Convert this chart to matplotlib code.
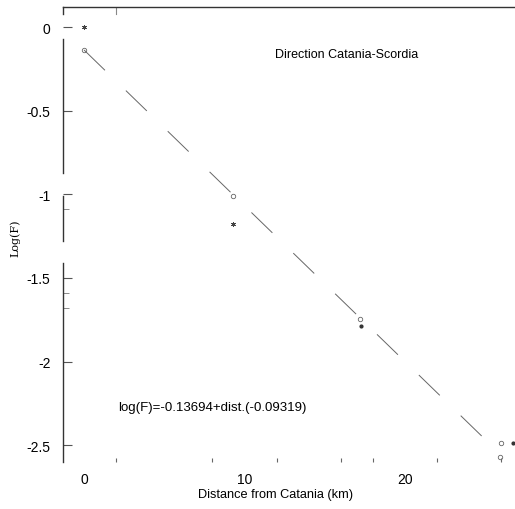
import matplotlib
matplotlib.use('Agg')
import matplotlib.pyplot as plt
import numpy as np

# fitted line log(F) = a + b * dist
intercept = -0.13694
slope = -0.09319
line_dist = [0.0, 25.9]

star_dist = [0.0, 9.3]
star_logf = [0.0, -1.18]
circle_dist = [0.0, 9.3, 17.2, 26.0, 25.9]
circle_logf = [-0.137, -1.01, -1.746, -2.49, -2.57]
dot_dist = [17.26, 26.7]
dot_logf = [-1.79, -2.49]

x_ticks = [2, 8, 12, 16, 18, 22, 26]
x_labels = [0, 10, 20]
y_labels = [0, -0.5, -1, -1.5, -2, -2.5]
y_minor = [-1.09, -1.59, -1.68]

plt.rcParams['font.family'] = ['Liberation Sans', 'DejaVu Sans']

fig = plt.figure(figsize=(5.15, 5.10), dpi=100)
ax = fig.add_axes([63 / 515, 1 - 463 / 510, 1 - 63 / 515, (463 - 8) / 510])
ax.set_xlim(-1.31, 26.85)
ax.set_ylim(-2.601, 0.12)

xs = np.array(line_dist)
ax.plot(xs, intercept + slope * xs, color='#666666', lw=0.7, dashes=(30, 30))

ax.plot(star_dist, star_logf, ls='none', marker=(6, 2, 0), ms=3.5, mew=0.6, color='#444444')
ax.plot(circle_dist, circle_logf, ls='none', marker='o', ms=3.2, mfc='none', mew=0.6, color='#666666')
ax.plot(dot_dist, dot_logf, ls='none', marker='o', ms=2.0, color='#333333')

# frame: no right/bottom spine, left spine is broken like in the scan
for s in ['right', 'bottom', 'left']:
    ax.spines[s].set_visible(False)
ax.spines['top'].set_linewidth(1.0)
ax.spines['top'].set_color('#333333')
left_pieces = [(0.12, 0.08), (-0.07, -0.87), (-1.01, -1.28), (-1.41, -2.601)]
for top, bot in left_pieces:
    ax.plot([0, 0], [bot, top], transform=ax.get_yaxis_transform(), color='#333333', lw=1.0, clip_on=False)

# single tick on the top edge
ax.plot([2, 2], [1.0, 0.985], transform=ax.get_xaxis_transform(), color='#888888', lw=0.8)

# bottom ticks (no labels on them) and labels at 0/10/20
ax.set_xticks(x_ticks)
ax.set_xticklabels([])
ax.tick_params(axis='x', direction='in', length=3, width=0.8, color='#666666')
for v in x_labels:
    ax.text(v, -0.038, str(v), transform=ax.get_xaxis_transform(), ha='center', va='center', fontsize=10)

ax.set_yticks(y_labels)
ax.set_yticklabels(['0', '-0.5', '-1', '-1.5', '-2', '-2.5'])
ax.set_yticks(y_minor, minor=True)
ax.tick_params(axis='y', which='major', direction='in', length=6.5, width=0.8, pad=9, labelsize=10, color='#555555')
ax.tick_params(axis='y', which='minor', direction='in', length=4, width=0.6, color='#777777')

fig.text(275 / 515, 1 - 55 / 510, 'Direction Catania-Scordia', fontsize=9, va='center')
ax.text(2.1, -2.27, 'log(F)=-0.13694+dist.(-0.09319)', fontsize=9.5, va='center')

fig.text(276 / 515, 1 - 495 / 510, 'Distance from Catania (km)', ha='center', va='center', fontsize=9.2)
fig.text(15 / 515, 1 - 238 / 510, 'Log(F)', rotation=90, ha='center', va='center', fontsize=8,
         family=['DejaVu Serif'])

fig.savefig('out.png', dpi=100)
